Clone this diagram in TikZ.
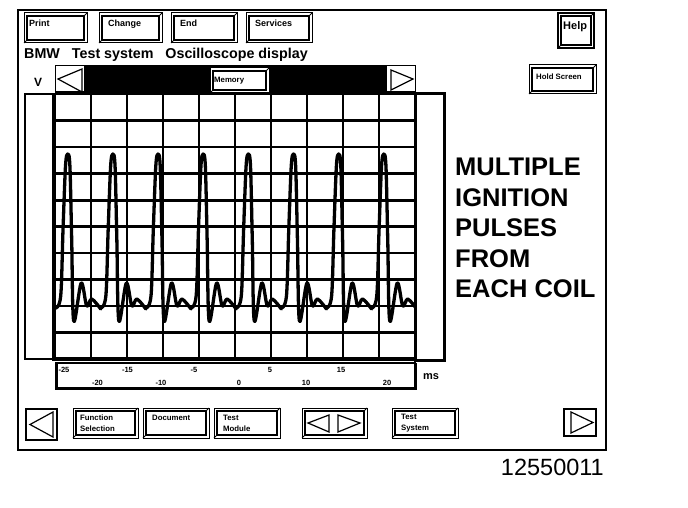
\documentclass[tikz,border=0pt]{standalone}
\usepackage{fontspec}
\setmainfont{Liberation Sans}
\usetikzlibrary{calc}

% bevelled screen button: [options]{name}{x}{y}{width}{height}
\newcommand{\uibutton}[6][]{%
  \node[btnbox, minimum width=#5pt, minimum height=#6pt, #1] (#2) at (#3,#4) {};
  \draw[btninner] ($(#2.north west)+(3,3)$) rectangle ($(#2.south east)+(-3,-3)$);
  \draw[line width=0.8pt] (#2.north east) -- ++(-3,3);
  \draw[line width=0.8pt] (#2.south west) -- ++(3,-3);
}

\begin{document}
\begin{tikzpicture}[
    x=1pt, y=-1pt,
    btnbox/.style={draw, line width=1pt, fill=white, anchor=north west, inner sep=0pt, outer sep=0pt},
    btninner/.style={line width=1.7pt},
    btnlabel/.style={anchor=north west, inner sep=0pt, align=left, font=\bfseries\fontsize{9}{10}\selectfont},
    smalllabel/.style={btnlabel, font=\bfseries\fontsize{7.8}{10.5}\selectfont},
    arrowbox/.style={draw, line width=1.6pt, fill=white, anchor=north west, inner sep=0pt, outer sep=0pt},
    tri/.style={line width=1.2pt, line join=miter},
    gridline/.style={line width=2.1pt},
    signal/.style={line width=3.3pt, line join=round, line cap=round},
    tick/.style={anchor=base, inner sep=0pt, font=\bfseries\fontsize{7.5}{8}\selectfont},
    label/.style={anchor=base west, inner sep=0pt}
]
\useasboundingbox (0,0) rectangle (688,508);

% Screen frame
\draw[line width=1.6pt] (18,10) rectangle (606,450);

% Top buttons
\uibutton{print}{24}{13}{63}{30}
\uibutton{change}{99}{13}{63}{30}
\uibutton{end}{171}{13}{66}{30}
\uibutton{services}{246}{13}{66}{30}
\uibutton[line width=2.6pt]{help}{558}{13}{36}{35}
\node[btnlabel] (print-text) at ($(print.north west)+(5,7)$) {Print};
\node[btnlabel] (change-text) at ($(change.north west)+(9,7)$) {Change};
\node[btnlabel] (end-text) at ($(end.north west)+(9,7)$) {End};
\node[btnlabel] (services-text) at ($(services.north west)+(9,7)$) {Services};
\node[btnlabel, font=\bfseries\fontsize{11}{12}\selectfont] (help-text) at ($(help.north west)+(5,8)$) {Help};

% Title
\node[label, font=\bfseries\fontsize{14.3}{16}\selectfont] (title) at (24,59)
    {BMW\hspace{8pt} Test system\hspace{8pt} Oscilloscope display};

% Scroll bar above the screen
\fill (55,65) rectangle (415,93);
\node[arrowbox, line width=1pt, minimum width=29pt, minimum height=26pt] (scrollL) at (55,66) {};
\draw[tri] ($(scrollL.west)+(3,0)$) -- ($(scrollL.north east)+(-2,3)$) -- ($(scrollL.south east)+(-2,0)$) -- cycle;
\node[arrowbox, line width=1pt, minimum width=29pt, minimum height=26pt] (scrollR) at (386,66) {};
\draw[tri] ($(scrollR.east)+(-2,0)$) -- ($(scrollR.north west)+(5,4)$) -- ($(scrollR.south west)+(5,-2)$) -- cycle;
\uibutton{memory}{210}{68}{59}{25}
\node[smalllabel] (memory-text) at ($(memory.north west)+(4,9)$) {Memory};

\uibutton{hold}{529}{65}{67}{29}
\node[smalllabel] (hold-text) at ($(hold.north west)+(7,9)$) {Hold Screen};

\node[label, font=\bfseries\fontsize{12}{13}\selectfont] (volt) at (34,87) {V};

% Side bars
\draw[line width=2.2pt] (25,94) rectangle (54,359);
\draw[line width=3pt] (415,94) rectangle (444,360);

% Grid
\foreach \i in {1,...,9}
    \draw[gridline] ({55+36*\i},94) -- ({55+36*\i},359);
\foreach \j in {1,...,9}
    \draw[gridline] (55,{94+26.5*\j}) -- (415,{94+26.5*\j});
\draw[line width=3pt] (55,200) -- (415,200);
\draw[line width=2.4pt] (54,94) rectangle (415,359);
\draw[line width=3.6pt] (54,94) -- (54,359) -- (415,359);

% Ignition pulses
\begin{scope}
    \clip (55,94) rectangle (415,359);
    \foreach \k in {0,...,7}
        \draw[signal, shift={({67.7+45.15*\k},0)}] plot[smooth, tension=0.55] coordinates
            {(-12,308) (-7,296) (-4.7,230) (-2.2,166) (0,154) (2.2,166) (4,240) (6,321)
             (13.5,283) (19,306) (24,299) (33,309)};
\end{scope}

% Time axis
\draw[line width=1.3pt] (56,363) rectangle (415,388);
\draw[line width=3pt] (56,363) -- (56,388) -- (415,388) -- (415,363);
\foreach \v/\xx [count=\i] in {-25/64, -15/127.5, -5/194, 5/270, 15/341}
    \node[tick] (ttop\i) at (\xx,372) {\v};
\foreach \v/\xx [count=\i] in {-20/97.5, -10/161, 0/239, 10/306, 20/387}
    \node[tick] (tbot\i) at (\xx,385) {\v};
\node[label, font=\bfseries\fontsize{11}{12}\selectfont] (unit) at (423,379) {ms};

% Caption
\node[anchor=north west, inner sep=0pt, align=left, font=\bfseries\fontsize{25.5}{30.5}\selectfont] (caption) at (455,158)
    {MULTIPLE\\IGNITION\\PULSES\\FROM\\EACH COIL};

% Bottom buttons
\node[arrowbox, minimum width=31pt, minimum height=31pt] (pageL) at (26,409) {};
\draw[tri] ($(pageL.west)+(4,0)$) -- ($(pageL.north east)+(-4,3)$) -- ($(pageL.south east)+(-4,-3)$) -- cycle;
\uibutton{func}{73}{408}{65}{30}
\uibutton{doc}{143}{408}{66}{30}
\uibutton{module}{214}{408}{66}{30}
\uibutton{pair}{302}{408}{65}{30}
\uibutton{system}{392}{408}{66}{30}
\node[smalllabel] (func-text) at ($(func.north west)+(7,7)$) {Function\\Selection};
\node[smalllabel] (doc-text) at ($(doc.north west)+(9,7)$) {Document};
\node[smalllabel] (module-text) at ($(module.north west)+(9,7)$) {Test\\Module};
\node[smalllabel] (system-text) at ($(system.north west)+(9,6)$) {Test\\System};
\draw[tri] ($(pair.west)+(6,0)$) -- ($(pair.north west)+(27,7)$) -- ($(pair.south west)+(27,-6)$) -- cycle;
\draw[tri] ($(pair.east)+(-7,0)$) -- ($(pair.north west)+(36,7)$) -- ($(pair.south west)+(36,-6)$) -- cycle;
\node[arrowbox, minimum width=32pt, minimum height=27pt] (pageR) at (564,409) {};
\draw[tri] ($(pageR.east)+(-3,0)$) -- ($(pageR.north west)+(7,3)$) -- ($(pageR.south west)+(7,-3)$) -- cycle;

% Figure number
\node[anchor=base east, inner sep=0pt, font=\fontsize{23.5}{26}\selectfont] (fignum) at (604,475) {12550011};

\end{tikzpicture}
\end{document}
